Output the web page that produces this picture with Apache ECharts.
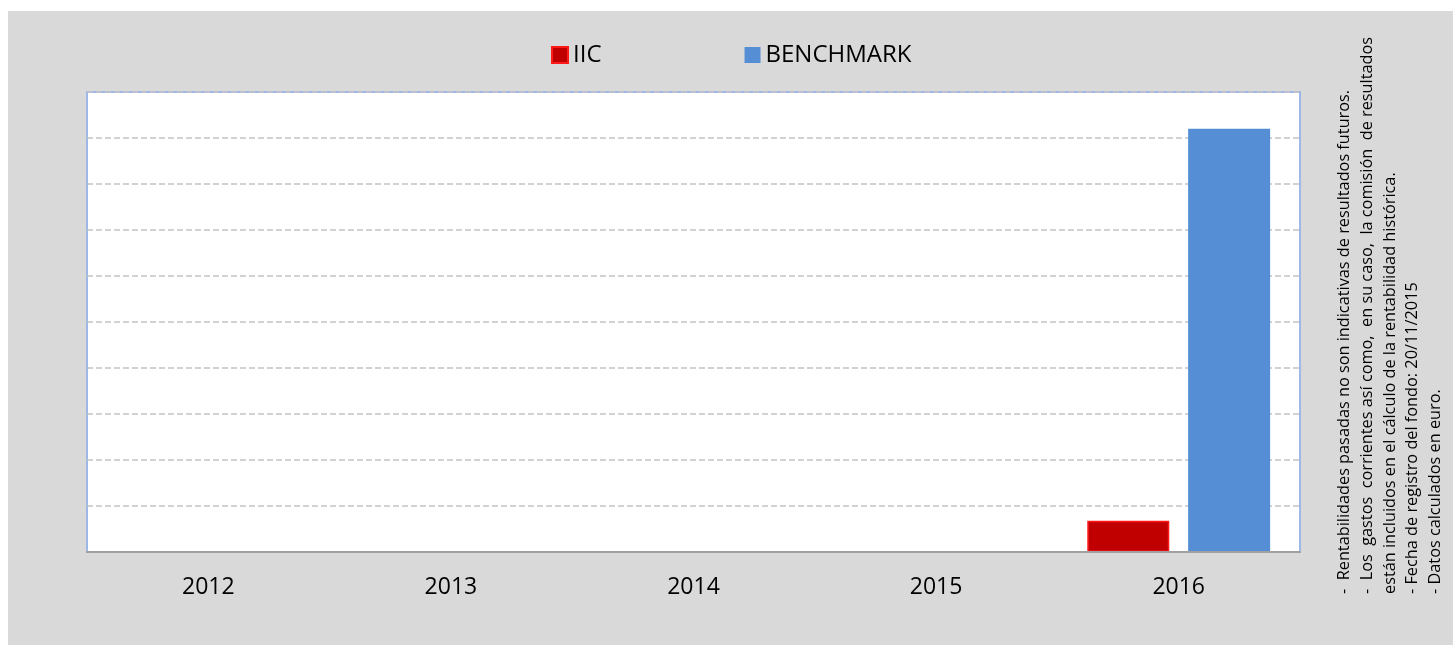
<!DOCTYPE html>
<html>
<head>
<meta charset="utf-8">
<script src="https://cdn.jsdelivr.net/npm/echarts@6/dist/echarts.min.js"></script>
<style>
  html, body { margin: 0; padding: 0; background: #ffffff; }
  #chart { position: absolute; left: 8px; top: 11px; width: 1445px; height: 634px; }
</style>
</head>
<body>
<div id="chart"></div>
<script>
const years = ['2012', '2013', '2014', '2015', '2016'];
const iicValues = [null, null, null, null, 0.68];
const benchmarkValues = [null, null, null, null, 9.2];
const seriesNames = ['IIC', 'BENCHMARK'];
const notes = [
  '-  Rentabilidades pasadas no son indicativas de resultados futuros.',
  '-  Los  gastos  corrientes así como,  en su caso,  la comisión  de resultados',
  'están incluidos en el cálculo de la rentabilidad histórica.',
  '- Fecha de registro del fondo: 20/11/2015',
  '- Datos calculados en euro.'
];

const FONT = '"Open Sans", sans-serif';
const chart = echarts.init(document.getElementById('chart'));

const noteX = [1336, 1359, 1382, 1404, 1427];
const noteGraphics = notes.map((t, i) => ({
  type: 'text',
  x: noteX[i],
  y: 583,
  rotation: Math.PI / 2,
  style: {
    text: t,
    fill: '#000000',
    font: '16.3px ' + FONT,
    textAlign: 'left',
    textVerticalAlign: 'middle'
  }
}));

chart.setOption({
  backgroundColor: '#d9d9d9',
  animation: false,
  textStyle: { fontFamily: FONT },
  legend: {
    data: seriesNames,
    left: 538,
    top: 27,
    itemWidth: 16,
    itemHeight: 16,
    itemGap: 143,
    icon: 'rect',
    textStyle: { fontSize: 24, color: '#000000', fontFamily: FONT }
  },
  grid: {
    left: 79, top: 81, right: 153, bottom: 93,
    show: true,
    backgroundColor: '#ffffff',
    borderColor: '#9db8e6',
    borderWidth: 2
  },
  xAxis: {
    type: 'category',
    data: years,
    z: 5,
    axisLine: { lineStyle: { color: '#a0a0a0', width: 2 } },
    axisTick: { show: false },
    axisLabel: { fontSize: 23, color: '#000000', margin: 24, fontFamily: FONT }
  },
  yAxis: {
    type: 'value',
    min: 0, max: 10, interval: 1,
    axisLine: { show: false },
    axisTick: { show: false },
    axisLabel: { show: false },
    splitLine: { lineStyle: { color: '#c4c4c4', width: 1.5, type: [6, 3] } }
  },
  series: [
    {
      name: seriesNames[0], type: 'bar', data: iicValues,
      barWidth: 82, barGap: '23%',
      itemStyle: { color: '#c00000', borderColor: '#ff1a1a', borderWidth: 1.5 }
    },
    {
      name: seriesNames[1], type: 'bar', data: benchmarkValues,
      barWidth: 82,
      itemStyle: { color: '#558ed5' }
    }
  ],
  graphic: noteGraphics
});
</script>
</body>
</html>
